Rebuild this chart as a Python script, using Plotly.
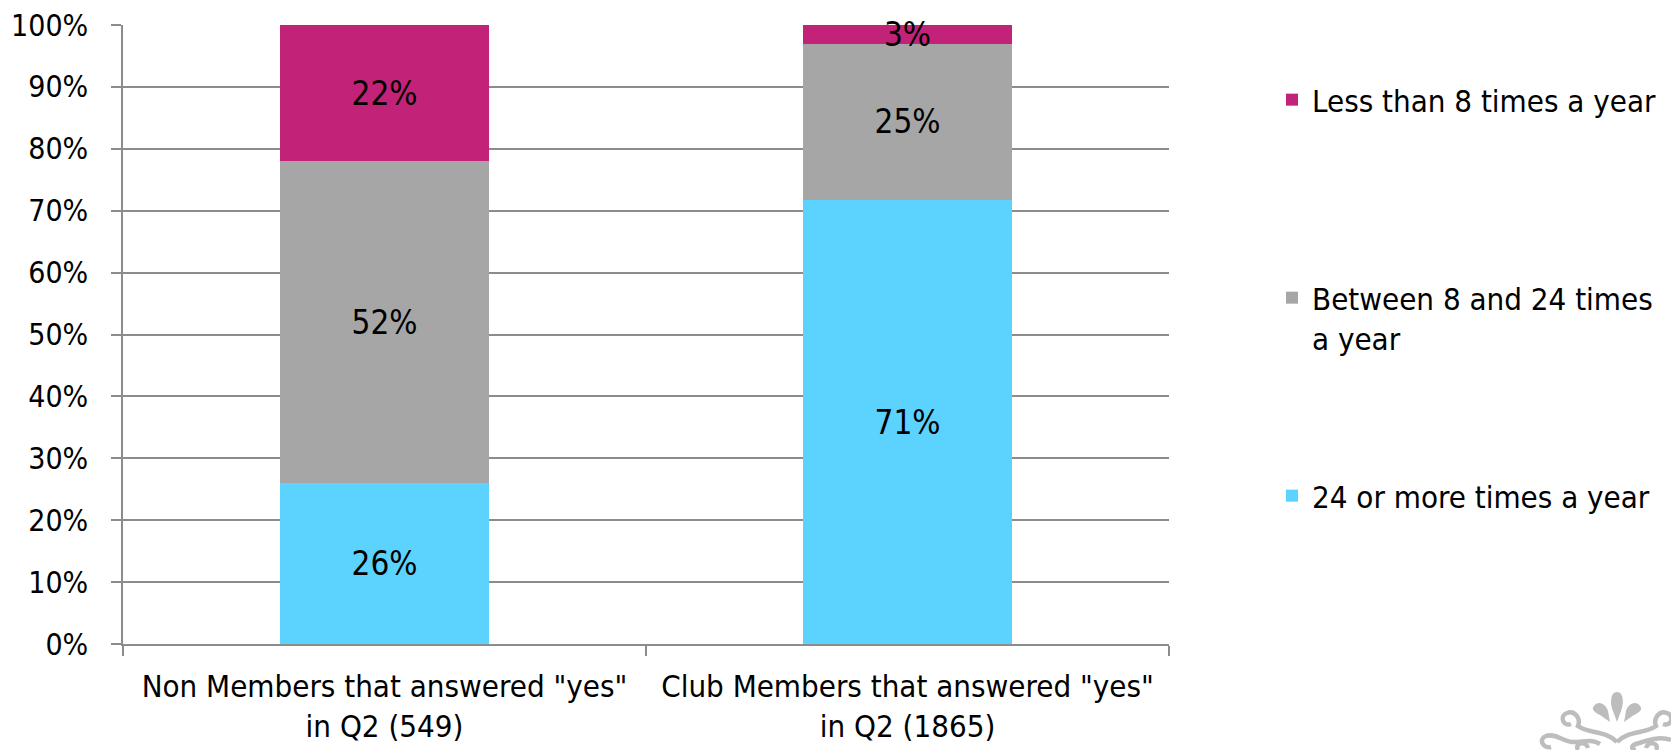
import plotly.graph_objects as go

# ---- data -------------------------------------------------------------
categories = [
    'Non Members that answered "yes"<br>in Q2 (549)',
    'Club Members that answered "yes"<br>in Q2 (1865)',
]
series_names = [
    "24 or more times a year",
    "Between 8 and 24 times<br>a year",
    "Less than 8 times a year",
]
freq_24_plus = [26, 71]
freq_8_to_24 = [52, 25]
freq_under_8 = [22, 3]
y_ticks = [0, 10, 20, 30, 40, 50, 60, 70, 80, 90, 100]

series_values = [freq_24_plus, freq_8_to_24, freq_under_8]
colors = ["#5CD3FE", "#A6A6A6", "#C22378"]
legend_ids = ["legend3", "legend2", "legend"]

FONT = "DejaVu Sans Condensed, DejaVu Sans, sans-serif"
W, H = 1671, 750
ML, MR, MT, MB = 123, 502, 25, 106
PW, PH = W - ML - MR, H - MT - MB
GRID = "#8C8C8C"

fig = go.Figure()
for name, vals, col, lg in zip(series_names, series_values, colors, legend_ids):
    fig.add_trace(go.Bar(
        x=categories,
        y=vals,
        name=name,
        legend=lg,
        marker=dict(color=col, line=dict(width=0)),
        text=[f"{v}%" for v in vals],
        textposition="inside",
        insidetextanchor="middle",
        textangle=0,
        constraintext="none",
        cliponaxis=False,
        textfont=dict(family=FONT, size=33, color="#000000"),
        hoverinfo="skip",
    ))


def px_x(x):
    return (x - ML) / PW


def px_y(y):
    return (MT + PH - y) / PH


def path(cmds):
    """Build an SVG path in paper coordinates from pixel-space points."""
    out = []
    for c in cmds:
        op, pts = c[0], c[1:]
        coords = " ".join(f"{px_x(x):.5f},{px_y(y):.5f}" for x, y in pts)
        out.append(f"{op}{coords}")
    return " ".join(out)


# decorative scroll ornament in the lower-right corner
orn = "#BDBDBD"
fill_parts = [
    # centre petal
    [("M", (1617, 692)), ("C", (1624, 692), (1624, 704), (1621, 711)),
     ("L", (1617, 722)), ("L", (1613, 711)),
     ("C", (1610, 704), (1610, 692), (1617, 692)), ("Z",)],
    # left petal
    [("M", (1594, 706)), ("C", (1598, 700), (1606, 704), (1608, 711)),
     ("L", (1610, 722)), ("L", (1600, 715)),
     ("C", (1594, 712), (1591, 709), (1594, 706)), ("Z",)],
    # right petal
    [("M", (1640, 706)), ("C", (1636, 700), (1628, 704), (1626, 711)),
     ("L", (1624, 722)), ("L", (1634, 715)),
     ("C", (1640, 712), (1643, 709), (1640, 706)), ("Z",)],
]
stroke_parts = [
    # left curl sweeping into the base
    [("M", (1571, 724)), ("C", (1563, 727), (1559, 716), (1567, 713)),
     ("C", (1575, 710), (1581, 719), (1578, 726)),
     ("C", (1588, 734), (1606, 730), (1617, 742))],
    # right curl sweeping into the base
    [("M", (1663, 724)), ("C", (1671, 727), (1675, 716), (1667, 713)),
     ("C", (1659, 710), (1653, 719), (1656, 726)),
     ("C", (1646, 734), (1628, 730), (1617, 742))],
    # lower-left scroll
    [("M", (1551, 747)), ("C", (1543, 749), (1538, 739), (1546, 736)),
     ("C", (1556, 733), (1562, 741), (1572, 742)),
     ("C", (1582, 743), (1590, 738), (1600, 744))],
    # small loops along the base
    [("M", (1578, 750)), ("C", (1574, 743), (1586, 740), (1588, 748))],
    [("M", (1656, 750)), ("C", (1660, 743), (1648, 740), (1646, 748))],
    # lower-right scroll
    [("M", (1671, 740)), ("C", (1660, 736), (1648, 740), (1636, 744)),
     ("C", (1630, 746), (1632, 750), (1636, 750))],
]
shapes = []
for p in fill_parts:
    shapes.append(dict(type="path", xref="paper", yref="paper", path=path(p),
                       fillcolor=orn, line=dict(width=0), layer="above"))
for p in stroke_parts:
    shapes.append(dict(type="path", xref="paper", yref="paper", path=path(p),
                       line=dict(color=orn, width=4.5), layer="above"))

legend_common = dict(
    font=dict(family=FONT, size=31, color="#000000"),
    bgcolor="rgba(0,0,0,0)",
    borderwidth=0,
    xanchor="left",
    yanchor="middle",
    valign="top",
    itemclick=False,
    itemdoubleclick=False,
)
lx = px_x(1272)

fig.update_layout(
    width=W,
    height=H,
    margin=dict(l=ML, r=MR, t=MT, b=MB, pad=0, autoexpand=False),
    paper_bgcolor="#FFFFFF",
    plot_bgcolor="#FFFFFF",
    barmode="stack",
    barnorm="percent",
    bargap=0.6,
    font=dict(family=FONT, size=30, color="#000000"),
    showlegend=True,
    legend=dict(x=lx, y=px_y(100), **legend_common),
    legend2=dict(x=lx, y=px_y(318), **legend_common),
    legend3=dict(x=lx, y=px_y(496), **legend_common),
    xaxis=dict(
        type="category",
        automargin=False,
        showgrid=False,
        showline=True,
        linecolor=GRID,
        linewidth=1.5,
        ticks="outside",
        tickson="boundaries",
        ticklen=10,
        tickwidth=1.5,
        tickcolor=GRID,
        ticklabelstandoff=14,
        tickfont=dict(family=FONT, size=31, color="#000000"),
        fixedrange=True,
    ),
    yaxis=dict(
        range=[0, 100],
        automargin=False,
        tickmode="array",
        tickvals=y_ticks,
        ticktext=[f"{t}%" for t in y_ticks],
        showgrid=True,
        gridcolor=GRID,
        gridwidth=1.5,
        zeroline=False,
        showline=True,
        linecolor=GRID,
        linewidth=1.5,
        ticks="outside",
        ticklen=10,
        tickwidth=1.5,
        tickcolor=GRID,
        ticklabelstandoff=17,
        tickfont=dict(family=FONT, size=30, color="#000000"),
        fixedrange=True,
    ),
    shapes=shapes,
)

fig.write_html("out.html", config={"displayModeBar": False})
